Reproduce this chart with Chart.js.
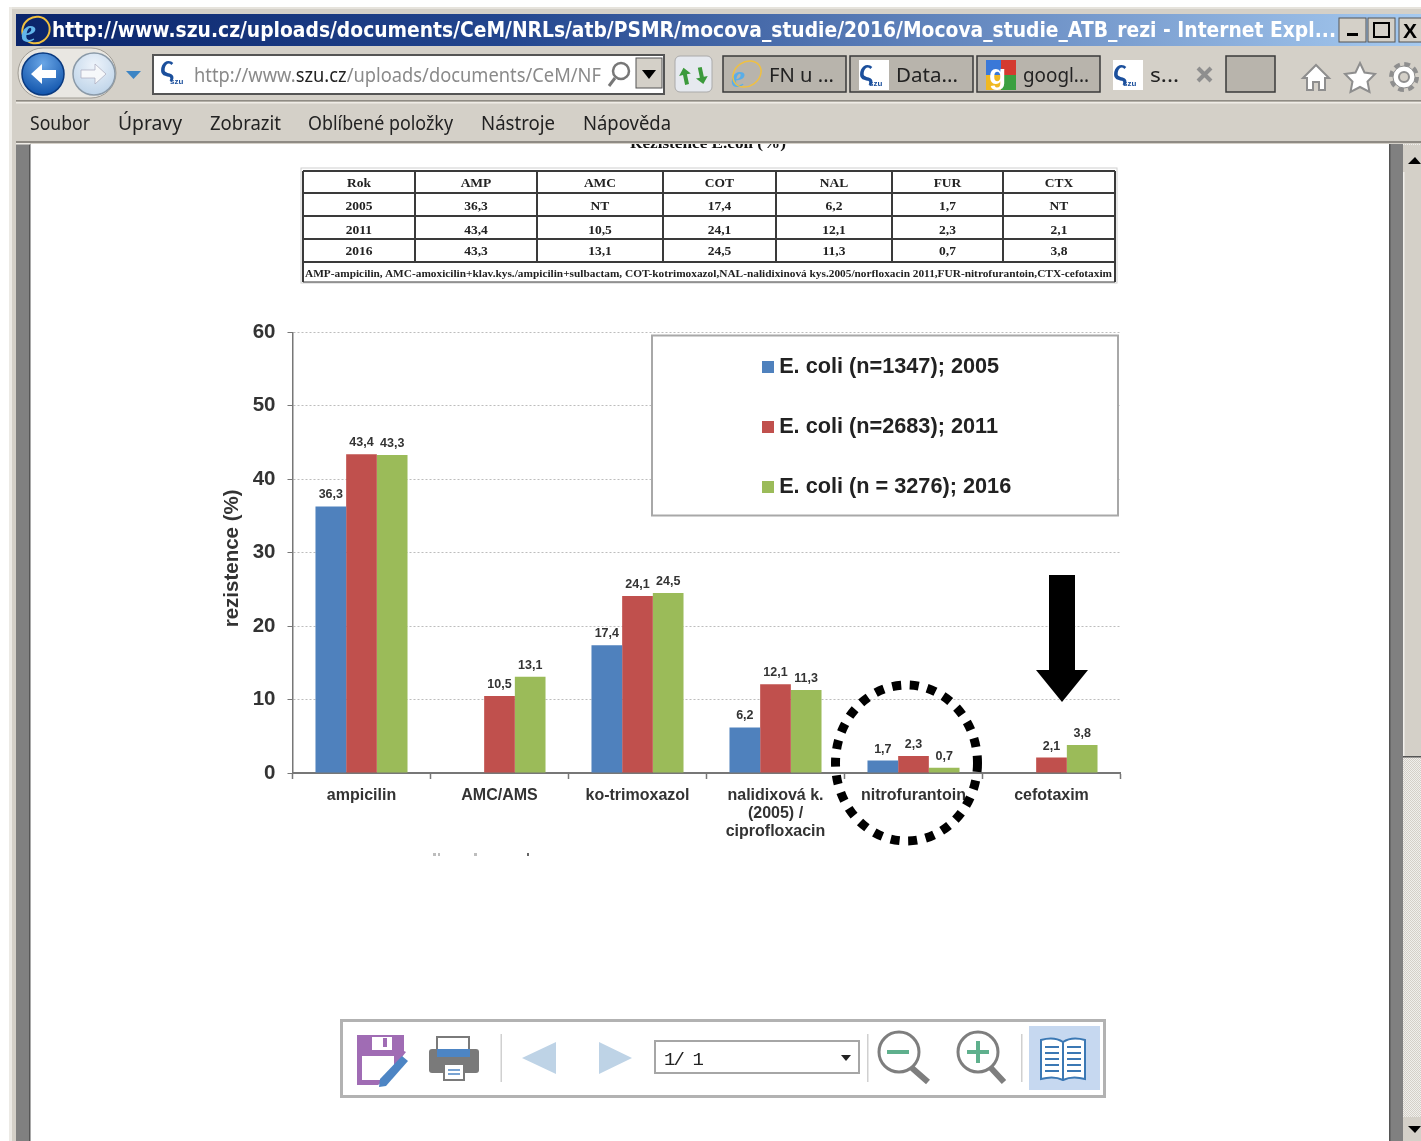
<!DOCTYPE html>
<html lang="cs"><head><meta charset="utf-8"><title>Rezistence E. coli</title>
<script src="https://cdn.jsdelivr.net/npm/chart.js@4"></script>
<style>
html,body{margin:0;padding:0;background:#fff;overflow:hidden}
#page{position:relative;width:1421px;height:1141px;overflow:hidden;filter:blur(.45px)}
svg.layer{position:absolute;left:0;top:0}
#chartWrap{position:absolute;left:200px;top:308px;width:930px;height:552px}
</style></head>
<body><div id="page">
<svg class="layer" width="1421" height="1141" font-family="'Liberation Sans',Arial,sans-serif">
<defs>
<linearGradient id="tb" x1="0" x2="1" y1="0" y2="0"><stop offset="0" stop-color="#0a246a"/><stop offset=".35" stop-color="#23468f"/><stop offset="1" stop-color="#a6caf0"/></linearGradient>
<radialGradient id="back" cx=".5" cy=".25" r=".8"><stop offset="0" stop-color="#6aa6e6"/><stop offset="1" stop-color="#0b4fa8"/></radialGradient>
<radialGradient id="fwd" cx=".5" cy=".3" r=".8"><stop offset="0" stop-color="#eef4fb"/><stop offset="1" stop-color="#b7cfe6"/></radialGradient>
<pattern id="dith" width="2" height="2" patternUnits="userSpaceOnUse"><rect width="2" height="2" fill="#f0efec"/><rect width="1" height="1" fill="#d4d0c8"/><rect x="1" y="1" width="1" height="1" fill="#d4d0c8"/></pattern>
</defs>
<!-- cropped page text under menu -->
<text x="708" y="148" text-anchor="middle" font-family="'Liberation Serif',serif" font-weight="bold" font-size="14" textLength="156" lengthAdjust="spacingAndGlyphs" fill="#111">Rezistence E.coli (%)</text>
<!-- window frame -->
<rect x="9" y="7" width="1412" height="137" fill="#d4d0c8"/>
<rect x="9" y="7" width="1412" height="2" fill="#e6e3dc"/>
<rect x="9" y="7" width="3" height="1134" fill="#eceae5"/>
<rect x="12" y="9" width="4" height="1132" fill="#d4d0c8"/>
<rect x="16" y="144" width="14" height="997" fill="#808080"/>
<rect x="29" y="144" width="1.5" height="997" fill="#555"/>
<!-- title bar -->
<rect x="16" y="14" width="1405" height="32" fill="url(#tb)"/>
<ellipse cx="36" cy="30" rx="14" ry="13" fill="none" stroke="#f0c040" stroke-width="2" transform="rotate(-35 36 30)"/>
<text x="21" y="42" font-size="34" font-family="'Liberation Serif',serif" font-style="italic" font-weight="bold" fill="#62b5ea">e</text>
<text x="52" y="37" font-family="'DejaVu Sans',sans-serif" font-weight="bold" font-size="21" fill="#fff" textLength="1284" lengthAdjust="spacingAndGlyphs">http://www.szu.cz/uploads/documents/CeM/NRLs/atb/PSMR/mocova_studie/2016/Mocova_studie_ATB_rezi - Internet Expl...</text>
<!-- window buttons -->
<g stroke="#555" stroke-width="1">
<rect x="1339" y="18" width="27" height="24" fill="#d4d0c8"/><rect x="1368" y="18" width="27" height="24" fill="#d4d0c8"/><rect x="1399" y="18" width="24" height="24" fill="#d4d0c8"/></g>
<rect x="1347" y="33" width="11" height="3" fill="#000"/>
<rect x="1374" y="23" width="15" height="14" fill="none" stroke="#000" stroke-width="2"/>
<text x="1403" y="38" font-size="21" font-weight="bold" fill="#000">X</text>
<!-- nav -->
<rect x="18" y="48" width="98" height="50" rx="25" fill="#e9e7e2" stroke="#a09c94"/>
<circle cx="43" cy="74" r="21" fill="url(#back)" stroke="#0a3a80" stroke-width="1.5"/>
<path d="M31 74l11-10v6h14v8h-14v6z" fill="#fff"/>
<circle cx="94" cy="74" r="21" fill="url(#fwd)" stroke="#8b9aa8" stroke-width="1.5"/>
<path d="M106 74l-11-10v6h-14v8h14v6z" fill="#f6f8fa" stroke="#aab" stroke-width=".7"/>
<path d="M126 71h15l-7.500 8z" fill="#3c84c4"/>
<!-- address bar -->
<rect x="153" y="55" width="511" height="39" fill="#fff" stroke="#555" stroke-width="2"/>
<rect x="636" y="58" width="26" height="30" fill="#d4d0c8" stroke="#555"/>
<path d="M642 70h14l-7 9z" fill="#000"/>
<text x="160" y="76" font-size="28" font-weight="bold" fill="#1b4f9c">ς</text><text x="170" y="84" font-size="8" font-weight="bold" fill="#1b4f9c">szu</text>
<text x="194" y="82" font-family="'Noto Sans',sans-serif" font-size="20" fill="#8a8a8a" textLength="407" lengthAdjust="spacingAndGlyphs">http://www.<tspan fill="#222">szu.cz</tspan>/uploads/documents/CeM/NF</text>
<circle cx="621" cy="71" r="8" fill="none" stroke="#777" stroke-width="2.500"/><path d="M615 78l-6 8" stroke="#777" stroke-width="3"/>
<rect x="675" y="56" width="37" height="36" rx="5" fill="#e6e9ef" stroke="#aaa"/>
<path d="M685 66l6 7h-4v10h-4v-10h-4z M701 86l-6-7h4v-10h4v10h4z" fill="#3c9a3c" transform="rotate(-12 693 74)"/>
<!-- tabs -->
<g stroke="#3a3a3a" stroke-width="1.500">
<rect x="723" y="56" width="123" height="36" fill="#b8b4ac"/><rect x="850" y="56" width="123" height="36" fill="#b8b4ac"/><rect x="977" y="56" width="123" height="36" fill="#b8b4ac"/><rect x="1226" y="56" width="49" height="36" fill="#b8b4ac"/></g>
<rect x="1104" y="55" width="118" height="38" fill="#d4d0c8"/>
<text x="731" y="87" font-size="32" font-family="'Liberation Serif',serif" font-style="italic" font-weight="bold" fill="#5aaee8">e</text>
<ellipse cx="747" cy="74" rx="15" ry="12" fill="none" stroke="#f0c040" stroke-width="1.500" transform="rotate(-35 747 74)"/>
<g fill="#222" font-family="'Noto Sans',sans-serif" font-size="20">
<text x="769" y="82" textLength="65" lengthAdjust="spacingAndGlyphs">FN u ...</text>
<text x="896" y="82" textLength="62" lengthAdjust="spacingAndGlyphs">Data...</text>
<text x="1023" y="82" textLength="66" lengthAdjust="spacingAndGlyphs">googl...</text>
<text x="1150" y="82" textLength="29" lengthAdjust="spacingAndGlyphs">s...</text>
<text x="30" y="130" textLength="60" lengthAdjust="spacingAndGlyphs">Soubor</text>
<text x="118" y="130" textLength="64" lengthAdjust="spacingAndGlyphs">Úpravy</text>
<text x="210" y="130" textLength="71" lengthAdjust="spacingAndGlyphs">Zobrazit</text>
<text x="308" y="130" textLength="145" lengthAdjust="spacingAndGlyphs">Oblíbené položky</text>
<text x="481" y="130" textLength="74" lengthAdjust="spacingAndGlyphs">Nástroje</text>
<text x="583" y="130" textLength="88" lengthAdjust="spacingAndGlyphs">Nápověda</text>
</g>
<g id="favs">
<rect x="859" y="60" width="30" height="30" fill="#fff"/><text x="859" y="80" font-size="28" font-weight="bold" fill="#1b4f9c">ς</text><text x="869" y="86" font-size="8" font-weight="bold" fill="#1b4f9c">szu</text>
<rect x="1113" y="60" width="30" height="30" fill="#fff"/><text x="1113" y="80" font-size="28" font-weight="bold" fill="#1b4f9c">ς</text><text x="1123" y="86" font-size="8" font-weight="bold" fill="#1b4f9c">szu</text>
<rect x="986" y="60" width="15" height="15" fill="#3a78d8"/><rect x="1001" y="60" width="15" height="15" fill="#d43a30"/><rect x="986" y="75" width="15" height="15" fill="#f0b820"/><rect x="1001" y="75" width="15" height="15" fill="#3aa040"/>
<text x="989" y="84" font-size="28" font-weight="bold" fill="#fff">g</text>
</g>
<path d="M1198 68l13 13M1211 68l-13 13" stroke="#8e8e8e" stroke-width="4"/>
<!-- home star gear -->
<g fill="#fff" stroke="#8e8e8e" stroke-width="2">
<path d="M1303 78l13-13 13 13h-4v12h-6v-8h-6v8h-6v-12z"/>
<path d="M1360 63l4.500 9.500 10.500 1.500-7.500 7.500 2 10.500-9.500-5-9.500 5 2-10.500-7.500-7.500 10.500-1.500z"/></g>
<circle cx="1404" cy="77" r="12" fill="none" stroke="#8e8e8e" stroke-width="6" stroke-dasharray="5.400 4"/>
<circle cx="1404" cy="77" r="11" fill="#fff" stroke="#8e8e8e" stroke-width="1"/><circle cx="1404" cy="77" r="5" fill="#d4d0c8" stroke="#8e8e8e" stroke-width="2"/>
<rect x="16" y="100" width="1405" height="1.500" fill="#8f8b84"/><rect x="16" y="102" width="1405" height="1.500" fill="#efece6"/>
<rect x="16" y="141" width="1405" height="2" fill="#8f8b84"/>
<rect x="16" y="143" width="14" height="1.500" fill="#efece6"/>
<!-- right scrollbar -->
<rect x="1389" y="144" width="14" height="997" fill="#808080"/><rect x="1389" y="144" width="1.500" height="997" fill="#555"/>
<rect x="1403" y="144" width="18" height="997" fill="url(#dith)"/>
<rect x="1403" y="145" width="18" height="27" fill="#d4d0c8"/><path d="M1408 164h13v0l-6-7z" fill="#000"/>
<rect x="1403" y="172" width="18" height="585" fill="#d4d0c8"/><rect x="1403" y="172" width="1.500" height="585" fill="#f2f0ec"/><rect x="1403" y="756" width="18" height="1.500" fill="#555"/>
<rect x="1403" y="1117" width="18" height="24" fill="#d4d0c8"/><path d="M1408 1126h13l-6 7z" fill="#000"/>
<!-- table -->
<g id="tbl"></g>
<!-- faint marks below chart -->
<g fill="#bdbdbd"><rect x="433" y="853" width="3" height="3"/><rect x="438" y="853" width="2" height="3"/><rect x="474" y="853" width="3" height="3"/></g><rect x="527" y="853" width="2" height="3" fill="#666"/>
<!-- bottom toolbar -->
<rect x="341.500" y="1020.500" width="763" height="76" fill="#fff" stroke="#b2b2b2" stroke-width="3"/>
<path d="M357 1035h47v16l2 1-24 30-4 3h-21z" fill="#a06cb4"/><rect x="372" y="1037" width="20" height="13" fill="#fff"/><rect x="383" y="1038" width="4" height="9" fill="#a06cb4"/><rect x="362" y="1056" width="32" height="24" fill="#fff"/>
<path d="M402 1056l6 5-22 25-7 1 1-8z" fill="#4d85c4"/>
<rect x="437" y="1037" width="32" height="34" fill="#fff" stroke="#7a7a7a" stroke-width="2"/><rect x="429" y="1049" width="50" height="24" rx="3" fill="#7a7a7a"/><rect x="437" y="1049" width="33" height="8" fill="#4d85c4"/><rect x="444" y="1064" width="20" height="16" fill="#fff" stroke="#7a7a7a" stroke-width="2"/><path d="M448 1070h12M448 1074h12" stroke="#4d85c4" stroke-width="1.500"/>
<rect x="500.500" y="1034" width="1.500" height="48" fill="#d0d0d0"/>
<path d="M556 1042v32l-34-16z M599 1042v32l33-16z" fill="#bed3e6"/>
<rect x="655" y="1041" width="204" height="32" fill="#fff" stroke="#a6a6a6" stroke-width="2"/>
<text x="664" y="1065" font-size="19" font-family="'Liberation Mono',monospace" fill="#222" textLength="40" lengthAdjust="spacing">1/ 1</text>
<path d="M841 1055h10l-5 6z" fill="#222"/>
<rect x="867" y="1034" width="1.500" height="48" fill="#d0d0d0"/>
<g fill="none" stroke="#7e7e7e" stroke-width="3"><circle cx="899" cy="1052" r="20"/><circle cx="978" cy="1052" r="20"/></g>
<path d="M912 1068l16 14M991 1068l13 14" stroke="#7e7e7e" stroke-width="6"/>
<path d="M887 1052h22M967 1052h22M978 1041v22" stroke="#5fb08d" stroke-width="4"/>
<rect x="1021" y="1034" width="1.500" height="48" fill="#d0d0d0"/>
<rect x="1029" y="1026" width="71" height="64" fill="#c6d8f0"/>
<path d="M1063 1042c-6-4-15-4-22-2v39c7-2 16-2 22 1 6-3 15-3 22-1v-39c-7-2-16-2-22 2z M1063 1042v38" fill="#fff" stroke="#3b78b4" stroke-width="2"/>
<path d="M1045 1047h14M1045 1053h14M1045 1059h14M1045 1065h14M1045 1071h14M1067 1047h14M1067 1053h14M1067 1059h14M1067 1065h14M1067 1071h14" stroke="#3b78b4" stroke-width="2"/>
</svg>
<div id="chartWrap"><canvas id="c" width="930" height="552"></canvas></div>
<svg class="layer" width="1421" height="1141" style="pointer-events:none">
<ellipse cx="906.500" cy="763" rx="71" ry="78" fill="none" stroke="#000" stroke-width="9" stroke-dasharray="9 8.700"/>
<path d="M1049 575h26v95h13l-26 32-26-32h13z" fill="#000"/>
</svg>
</div>
<script>
const categories=['ampicilin','AMC/AMS','ko-trimoxazol',['nalidixová k.','(2005) /','ciprofloxacin'],'nitrofurantoin','cefotaxim'];
const series2005=[36.3,null,17.4,6.2,1.7,null];
const series2011=[43.4,10.5,24.1,12.1,2.3,2.1];
const series2016=[43.3,13.1,24.5,11.3,0.7,3.8];
const seriesNames=['E. coli (n=1347); 2005','E. coli (n=2683); 2011','E. coli (n = 3276); 2016'];
const seriesColors=['#4f81bd','#c0504d','#9bbb59'];
const yTicks=[0,10,20,30,40,50,60];
const tableHead=['Rok','AMP','AMC','COT','NAL','FUR','CTX'];
const tableRows=[['2005','36,3','NT','17,4','6,2','1,7','NT'],['2011','43,4','10,5','24,1','12,1','2,3','2,1'],['2016','43,3','13,1','24,5','11,3','0,7','3,8']];
const tableNote='AMP-ampicilin, AMC-amoxicilin+klav.kys./ampicilin+sulbactam, COT-kotrimoxazol,NAL-nalidixinová kys.2005/norfloxacin 2011,FUR-nitrofurantoin,CTX-cefotaxim';

// table as SVG
(function(){
 const xs=[303,415,537,663,776,892,1003,1115], ys=[171,193,216,239,262,282], off=[16,17,18,16];
 let s='<rect x="301" y="168" width="816" height="115" fill="#fff" stroke="#d0d0d0"/>';
 const ln=(a,b,c,d,w)=>`<line x1="${a}" y1="${b}" x2="${c}" y2="${d}" stroke="#3a3a3a" stroke-width="${w}"/>`;
 ys.forEach((y,i)=>{s+=ln(303,y,1115,y,i==5?1:2)});
 xs.forEach((x,i)=>{s+=ln(x,171,x,(i==0||i==7)?282:262,2)});
 [tableHead,...tableRows].forEach((r,ri)=>r.forEach((t,ci)=>{
  s+=`<text x="${(xs[ci]+xs[ci+1])/2}" y="${ys[ri]+off[ri]}" text-anchor="middle" font-family="'Liberation Serif',serif" font-weight="bold" font-size="13.500" fill="#222">${t}</text>`;
 }));
 s+=`<text x="305" y="277" font-family="'Liberation Serif',serif" font-weight="bold" font-size="11" fill="#222" textLength="807" lengthAdjust="spacingAndGlyphs">${tableNote}</text>`;
 document.getElementById('tbl').innerHTML=s;
})();

const swatch=c=>{const k=document.createElement('canvas');k.width=12;k.height=12;const g=k.getContext('2d');g.fillStyle=c;g.fillRect(0,0,12,12);return k;};
const swatches=seriesColors.map(swatch);
const legendBox={x:452,y:27.5,w:466,h:180};
const legendPlace={left:529,top:10};

const barLabels={id:'barLabels',afterDatasetsDraw(ch){
 const g=ch.ctx;g.save();g.font='bold 12.5px "Liberation Sans"';g.fillStyle='#333';g.textAlign='center';g.textBaseline='alphabetic';
 ch.data.datasets.forEach((d,i)=>ch.getDatasetMeta(i).data.forEach((el,j)=>{
  if(d.data[j]==null)return;
  g.fillText(d.data[j].toFixed(1).replace('.',','),el.x,el.y-8);
 }));g.restore();}};

const legendMover={id:'legendMover',afterLayout(ch){
 const l=ch.legend;
 l.left=legendPlace.left;l.top=legendPlace.top;l.right=l.left+l.width;l.bottom=l.top+l.height;
 if(!l._wrapped){const o=l.draw;l.draw=function(){const g=ch.ctx;g.save();g.fillStyle='#fff';g.strokeStyle='#a8a8a8';g.lineWidth=2;g.fillRect(legendBox.x,legendBox.y,legendBox.w,legendBox.h);g.strokeRect(legendBox.x,legendBox.y,legendBox.w,legendBox.h);g.restore();o.call(this);};l._wrapped=true;}
}};

new Chart(document.getElementById('c'),{
 type:'bar',
 data:{labels:categories,datasets:[
  {label:seriesNames[0],data:series2005,backgroundColor:seriesColors[0]},
  {label:seriesNames[1],data:series2011,backgroundColor:seriesColors[1]},
  {label:seriesNames[2],data:series2016,backgroundColor:seriesColors[2]}]},
 options:{responsive:false,animation:false,devicePixelRatio:1,
  layout:{autoPadding:false,padding:{top:22,right:9.5,left:0,bottom:0}},
  datasets:{bar:{categoryPercentage:0.667,barPercentage:1}},
  plugins:{tooltip:{enabled:false},title:{display:false},
   legend:{display:true,position:'chartArea',align:'start',
    labels:{usePointStyle:true,pointStyleWidth:1,boxHeight:12,padding:38.3,color:'#222',font:{family:'"Liberation Sans"',size:21.7,weight:'bold'},
     generateLabels(ch){return Chart.defaults.plugins.legend.labels.generateLabels(ch).map((it,i)=>({...it,pointStyle:swatches[i]}));}}}},
  scales:{
   x:{afterFit(s){s.height=87;},
    grid:{drawOnChartArea:false,tickLength:6,tickColor:'#777',tickWidth:1.5},
    border:{color:'#777',width:2},
    ticks:{autoSkip:false,maxRotation:0,minRotation:0,padding:7,color:'#333',font:{family:'"Liberation Sans"',size:16,weight:'bold',lineHeight:1.15}}},
   y:{min:0,max:60,afterFit(s){s.width=92.5;},
    afterBuildTicks(s){s.ticks=yTicks.map(v=>({value:v}));},
    title:{display:true,text:'rezistence (%)  ',color:'#333',padding:{top:22,bottom:0},font:{family:'"Liberation Sans"',size:20.5,weight:'bold',lineHeight:1}},
    grid:{color:'#bdbdbd',lineWidth:1,tickColor:'#777',tickLength:5,tickBorderDash:[]},
    border:{color:'#777',width:1.5,dash:[2,2]},
    ticks:{padding:12,color:'#333',font:{family:'"Liberation Sans"',size:20.5,weight:'bold'}}}
  }},
 plugins:[barLabels,legendMover]
});
</script>
</body></html>
